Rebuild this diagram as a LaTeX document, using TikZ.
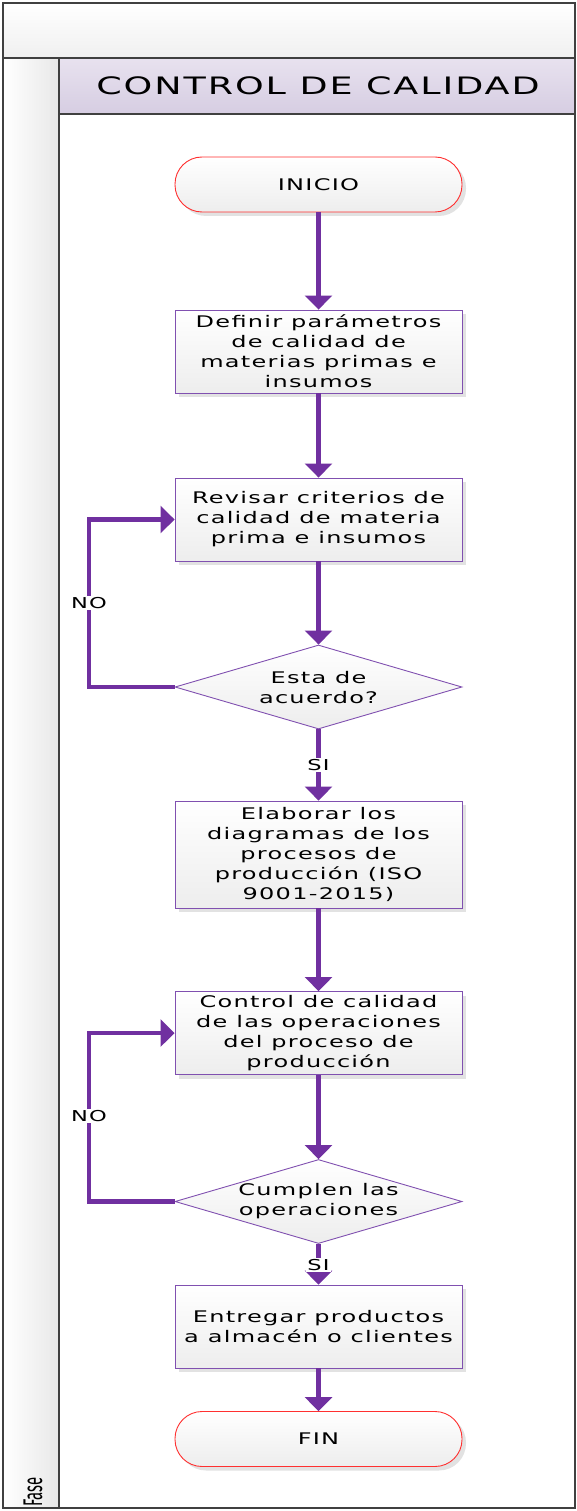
\documentclass[tikz,border=0pt]{standalone}
\usepackage{fontspec}
\setmainfont{DejaVu Sans}
\newfontfamily\flowfont[FakeStretch=1.5,LetterSpace=8]{DejaVu Sans}
\newfontfamily\titlefont[FakeStretch=1.52,LetterSpace=8]{DejaVu Sans}
\newfontfamily\lanefont[FakeStretch=0.55]{Fira Sans}
\usetikzlibrary{shapes.geometric,shadows,arrows.meta}

\definecolor{flowpurple}{HTML}{7030A0}
\definecolor{boxborder}{HTML}{8050B0}
\definecolor{termborder}{HTML}{FF3030}
\definecolor{framegray}{HTML}{404040}
\definecolor{headtop}{HTML}{E8E2EF}
\definecolor{headbot}{HTML}{D6CDE2}

\tikzset{
  flowtext/.style={font=\flowfont\fontsize{16}{20}\selectfont, align=center},
  procbox/.style={draw=boxborder, line width=0.9pt, minimum width=287pt,
    minimum height=83pt, inner sep=0pt, top color=white, bottom color=gray!14,
    drop shadow={shadow xshift=4pt, shadow yshift=-4pt, fill=gray!45, opacity=0.5}},
  termbox/.style={draw=termborder, line width=0.9pt, rounded corners=27pt,
    minimum width=287pt, minimum height=55pt, inner sep=0pt,
    top color=white, bottom color=gray!14,
    drop shadow={shadow xshift=4pt, shadow yshift=-4pt, fill=gray!45, opacity=0.5}},
  decbox/.style={draw=boxborder, line width=0.9pt, shape=diamond, minimum width=287pt,
    minimum height=84pt, inner sep=0pt, top color=white, bottom color=gray!14},
  flowarrow/.style={draw=flowpurple, line width=4.5pt,
    -{Triangle[length=14pt,width=27pt]}},
  branchlabel/.style={font=\flowfont\fontsize{15}{16}\selectfont, fill=white, inner sep=1.5pt}
}

\begin{document}
\begin{tikzpicture}[x=1pt,y=-1pt]
\useasboundingbox (0,0) rectangle (577,1511);

% lane frame
\shade[top color=white, bottom color=gray!12] (3,3) rectangle (575,58);
\shade[left color=white, right color=gray!18] (3,58) rectangle (59,1508);
\shade[top color=headtop, bottom color=headbot] (59,58) rectangle (575,114);
\draw[framegray, line width=1.8pt] (3,3) rectangle (575,1508);
\draw[framegray, line width=1.8pt] (3,58) -- (575,58);
\draw[framegray, line width=1.8pt] (59,58) -- (59,1508);
\draw[framegray, line width=1.2pt] (59,114) -- (575,114);

\node[font=\titlefont\fontsize{24}{26}\selectfont] (title) at (318,86) {CONTROL DE CALIDAD};
\node[font=\lanefont\fontsize{27}{30}\selectfont, rotate=90, inner sep=0pt] (fase) at (33,1492) {Fase};

% flow nodes
\node[termbox, flowtext] (inicio) at (318.5,184.5) {INICIO};
\node[procbox, flowtext] (b1) at (318.5,351.5) {Definir parámetros\\de calidad de\\materias primas e\\insumos};
\node[procbox, flowtext] (b2) at (318.5,519.5) {Revisar criterios de\\calidad de materia\\prima e insumos};
\node[decbox] (d1) at (318.5,687) {};
\node[flowtext] (d1text) at (318.5,688) {Esta de\\acuerdo?};
\node[procbox, flowtext, minimum height=107pt] (b3) at (318.5,854.5) {Elaborar los\\diagramas de los\\procesos de\\producción (ISO\\9001-2015)};
\node[procbox, flowtext] (b4) at (318.5,1033) {Control de calidad\\de las operaciones\\del proceso de\\producción};
\node[decbox] (d2) at (318.5,1201.5) {};
\node[flowtext] (d2text) at (318.5,1201.5) {Cumplen las\\operaciones};
\node[procbox, flowtext] (b5) at (318.5,1326.5) {Entregar productos\\a almacén o clientes};
\node[termbox, flowtext] (fin) at (318.5,1439) {FIN};

% connectors
\draw[flowarrow] (inicio) -- (b1);
\draw[flowarrow] (b1) -- (b2);
\draw[flowarrow] (b2) -- (d1);
\draw[flowarrow] (d1) -- (b3);
\draw[flowarrow] (b3) -- (b4);
\draw[flowarrow] (b4) -- (d2);
\draw[flowarrow] (d2) -- (b5);
\draw[flowarrow] (b5) -- (fin);

\coordinate (loop1) at (89,687);
\coordinate (loop2) at (89,1201.5);
\draw[flowarrow] (d1.west) -- (loop1) |- (b2.west);
\draw[flowarrow] (d2.west) -- (loop2) |- (b4.west);

% branch labels
\node[branchlabel] (no1) at (89,603) {NO};
\node[branchlabel] (no2) at (89,1116) {NO};
\node[branchlabel] (si1) at (318.5,765) {SI};
\node[branchlabel] (si2) at (318.5,1265) {SI};
\end{tikzpicture}
\end{document}
